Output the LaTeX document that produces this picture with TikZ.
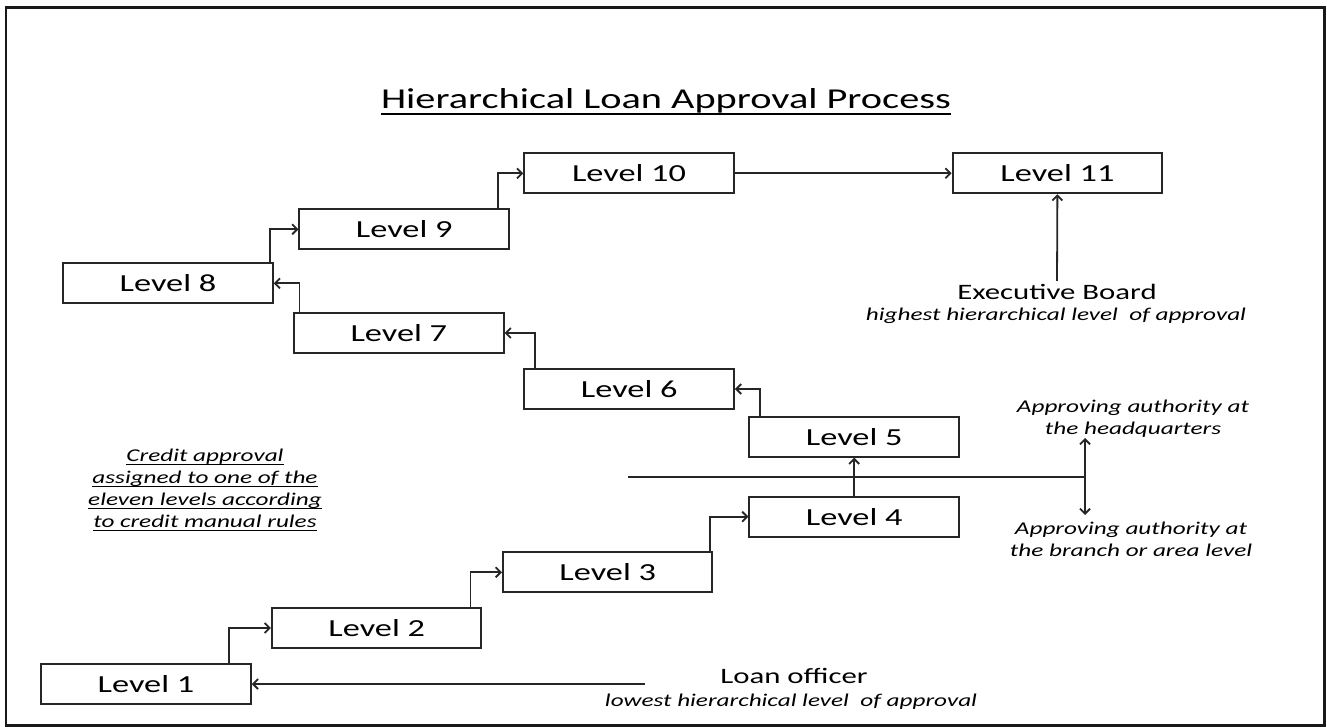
\documentclass[tikz,border=0pt]{standalone}
\usepackage{fontspec}
\setmainfont{Carlito}[FakeStretch=1.4]
\usetikzlibrary{arrows.meta}
\newsavebox\myulbox
% #1 = distance from baseline to bottom of rule, #2 = thickness, #3 = text
\newcommand\myul[3]{\sbox\myulbox{#3}\rlap{\rule[-#1]{\wd\myulbox}{#2}}\usebox\myulbox}
\begin{document}
\begin{tikzpicture}[x=1pt,y=-1pt,
  lvl/.style={draw=black!85, line width=2pt, minimum width=209.5pt, minimum height=40pt, inner sep=0pt, font=\fontsize{24.5}{28}\selectfont},
  conn/.style={draw=black!85, line width=1.8pt, -{Straight Barb[length=5pt,width=10pt]}},
  plainline/.style={draw=black!85, line width=1.8pt},
  lbl/.style={font=\fontsize{22}{26}\selectfont, inner sep=0pt},
  note/.style={font=\fontsize{18}{21.8}\selectfont\itshape, inner sep=0pt, align=center}]
\useasboundingbox (0,0) rectangle (1327,727);
\fill[white] (0,0) rectangle (1327,727);
\draw[line width=2.5pt, black!90] (6,7.5) rectangle (1324.5,725.5);

\node[anchor=base, inner sep=0pt, font=\fontsize{28.8}{33}\selectfont] (title) at (666,108.3)
  {\myul{6.5pt}{1.6pt}{Hierarchical Loan Approval Process}};

\node[lvl] (L1) at (146,684) {Level 1};
\node[lvl] (L2) at (376.7,628) {Level 2};
\node[lvl] (L3) at (607.7,572.3) {Level 3};
\node[lvl] (L4) at (854.2,516.7) {Level 4};
\node[lvl] (L5) at (854.2,436.7) {Level 5};
\node[lvl] (L6) at (629.2,389) {Level 6};
\node[lvl] (L7) at (398.8,333) {Level 7};
\node[lvl] (L8) at (168,283.3) {Level 8};
\node[lvl] (L9) at (404.2,229.3) {Level 9};
\node[lvl] (L10) at (629,173.3) {Level 10};
\node[lvl] (L11) at (1057.4,173.3) {Level 11};

\draw[conn] ([xshift=-22.7pt]L1.north east) |- (L2.west);
\draw[conn] ([xshift=-12pt]L2.north east) |- (L3.west);
\draw[conn] ([xshift=-3.3pt]L3.north east) |- (L4.west);
\draw[conn] (L4.north) -- (L5.south);
\draw[conn] ([xshift=11.7pt]L5.north west) |- (L6.east);
\draw[conn] ([xshift=11.7pt]L6.north west) |- (L7.east);
\draw[conn] ([xshift=6.4pt]L7.north west) |- (L8.east);
\draw[conn] ([xshift=-3.4pt]L8.north east) |- (L9.west);
\draw[conn] ([xshift=-11.7pt]L9.north east) |- (L10.west);
\draw[conn] (L10.east) -- (L11.west);

\node[lbl, anchor=base] (eb) at (1057,299.3) {Executive Board};
\node[note, anchor=base] (ebs) at (1056,320.5) {highest hierarchical level\ \ of approval};
\draw[conn] ([yshift=3pt]eb.north) -- (L11.south);

\node[lbl, anchor=base] (lo) at (794,683.3) {Loan officer};
\node[note, anchor=base] (los) at (791,706.7) {lowest hierarchical level\ \ of approval};
\coordinate (lofree) at (645,684);
\draw[conn] (lofree) -- (L1.east);

\coordinate (d1) at (628.3,476.7);
\coordinate (d2) at (1085,476.7);
\draw[plainline] (d1) -- (d2);
\node[note] (hq) at (1133,419) {Approving authority at\\the headquarters};
\node[note] (br) at (1131,539) {Approving authority at\\the branch or area level};
\coordinate (hqt) at (1085,438);
\coordinate (brt) at (1085,515);
\draw[conn] (d2) -- (hqt);
\draw[conn] (d2) -- (brt);

\node[note] (cr) at (205,490) {\myul{3.7pt}{1.2pt}{Credit approval}\\
  \myul{3.7pt}{1.2pt}{assigned to one of the}\\
  \myul{3.7pt}{1.2pt}{eleven levels according}\\
  \myul{3.7pt}{1.2pt}{to credit manual rules}};
\end{tikzpicture}
\end{document}
